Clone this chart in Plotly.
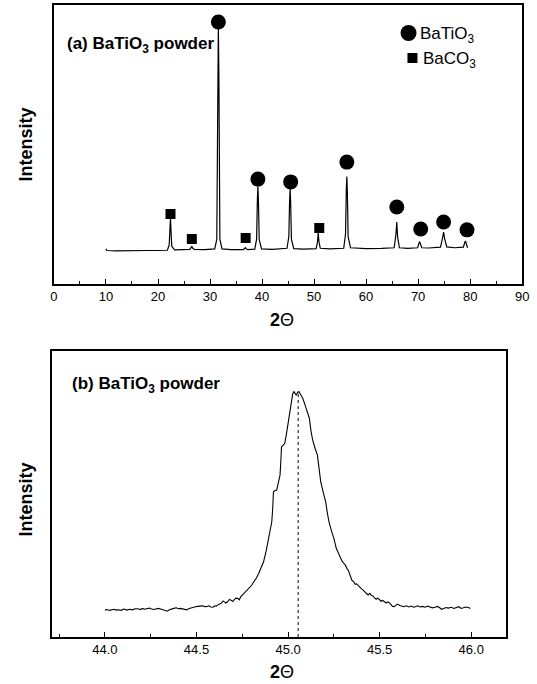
import plotly.graph_objects as go

# ---------------- data: panel (a) full XRD pattern ----------------
two_theta_a = [10.0, 10.15, 12.0, 14.0, 16.0, 18.0, 20.0, 21.8, 22.15, 22.3, 22.4, 22.5, 22.65, 23.2,
               25.0, 26.1, 26.35, 26.5, 26.65, 27.0, 29.0, 30.9, 31.3, 31.5, 31.6, 31.7, 31.9, 32.3,
               34.0, 36.4, 36.65, 36.8, 36.95, 37.3, 38.6, 38.95, 39.1, 39.2, 39.3, 39.45, 39.9,
               42.0, 44.8, 45.15, 45.3, 45.4, 45.5, 45.65, 46.1, 48.0, 50.4, 50.65, 50.8, 50.95, 51.2,
               53.0, 55.7, 56.05, 56.2, 56.3, 56.4, 56.55, 57.0, 60.0, 63.0, 65.4, 65.75, 65.9, 66.05,
               66.4, 68.0, 69.9, 70.15, 70.3, 70.45, 70.7, 72.0, 74.3, 74.7, 74.9, 75.1, 75.5, 77.0,
               78.7, 78.95, 79.1, 79.25, 79.5]
intensity_a = [12.6, 12.0, 11.9, 12.0, 11.9, 12.0, 12.0, 12.1, 14.0, 20.0, 23.7, 19.0, 13.5, 12.2,
               12.3, 12.4, 13.0, 13.5, 12.9, 12.4, 12.3, 12.6, 16.0, 75.0, 93.0, 75.0, 16.0, 12.6,
               12.3, 12.3, 12.6, 13.0, 12.6, 12.3, 12.5, 16.0, 30.0, 35.0, 30.0, 16.0, 12.6,
               12.4, 12.8, 17.0, 30.0, 34.0, 29.0, 16.0, 12.7, 12.5, 12.7, 15.0, 18.3, 15.0, 12.8,
               12.6, 12.8, 18.0, 34.0, 38.5, 33.0, 17.0, 13.0, 12.7, 12.8, 13.0, 18.0, 22.2, 17.0,
               13.0, 12.8, 13.0, 14.5, 15.2, 14.3, 13.0, 12.9, 13.2, 16.5, 18.6, 16.3, 13.3, 13.0,
               13.2, 14.8, 15.4, 14.5, 13.0]

# phase markers (peak identification symbols)
batio3_peaks = [31.6, 39.2, 45.5, 56.3, 65.9, 70.5, 74.9, 79.4]
batio3_marker_y = [93.9, 37.6, 36.6, 43.7, 27.6, 19.7, 22.2, 19.4]
baco3_peaks = [22.4, 26.5, 36.85, 51.0]
baco3_marker_y = [25.1, 16.1, 16.5, 20.1]

# ---------------- data: panel (b) (200) peak detail ----------------
two_theta_b = [44.000, 44.012, 44.025, 44.037, 44.050, 44.062, 44.075, 44.091, 44.100, 44.109,
               44.120, 44.136, 44.150, 44.165, 44.180, 44.195, 44.205, 44.216, 44.230, 44.243,
               44.255, 44.266, 44.278, 44.290, 44.305, 44.318, 44.330, 44.340, 44.352, 44.365,
               44.376, 44.390, 44.400, 44.412, 44.425, 44.437, 44.447, 44.460, 44.472, 44.483,
               44.495, 44.507, 44.519, 44.530, 44.542, 44.555, 44.567, 44.578, 44.590, 44.600,
               44.608, 44.620, 44.635, 44.645, 44.652, 44.660, 44.670, 44.680, 44.688, 44.697,
               44.706, 44.715, 44.724, 44.733, 44.742, 44.750, 44.759, 44.772, 44.786, 44.800,
               44.813, 44.827, 44.840, 44.853, 44.866, 44.880, 44.893, 44.902, 44.911, 44.916,
               44.920, 44.929, 44.938, 44.947, 44.956, 44.960, 44.964, 44.973, 44.982, 44.991,
               45.000, 45.009, 45.018, 45.025, 45.032, 45.038, 45.044, 45.052, 45.059, 45.068,
               45.080, 45.090, 45.098, 45.107, 45.116, 45.125, 45.134, 45.147, 45.160, 45.170,
               45.178, 45.192, 45.205, 45.214, 45.223, 45.237, 45.250, 45.263, 45.276, 45.285,
               45.294, 45.303, 45.312, 45.321, 45.330, 45.339, 45.348, 45.358, 45.366, 45.374,
               45.383, 45.392, 45.401, 45.410, 45.419, 45.428, 45.437, 45.446, 45.455, 45.464,
               45.472, 45.481, 45.490, 45.499, 45.508, 45.517, 45.526, 45.535, 45.543, 45.552,
               45.562, 45.570, 45.579, 45.588, 45.597, 45.610, 45.620, 45.632, 45.645, 45.660,
               45.672, 45.685, 45.695, 45.708, 45.720, 45.735, 45.749, 45.762, 45.775, 45.788,
               45.802, 45.815, 45.826, 45.838, 45.850, 45.862, 45.875, 45.891, 45.905, 45.918,
               45.932, 45.945, 45.958, 45.970, 45.985, 45.995]
intensity_b = [9.4, 9.6, 9.3, 9.5, 9.7, 9.4, 9.5, 9.3, 9.8, 9.7,
               9.4, 9.7, 9.5, 9.9, 9.9, 9.6, 10.0, 9.7, 9.9, 10.1,
               9.8, 9.6, 9.8, 10.0, 9.8, 9.5, 9.3, 9.0, 9.5, 9.9,
               10.0, 10.2, 9.9, 10.0, 9.8, 9.6, 9.5, 10.0, 10.3, 10.4,
               10.6, 10.7, 10.8, 10.9, 10.7, 10.6, 10.9, 10.5, 10.4, 10.9,
               10.8, 11.4, 11.8, 12.6, 12.3, 11.9, 12.3, 13.1, 12.9, 12.4,
               13.0, 13.6, 13.5, 13.0, 14.1, 14.6, 15.3, 16.0, 17.0, 18.0,
               19.3, 20.6, 22.3, 24.0, 26.3, 30.0, 34.5, 37.0, 40.3, 45.0,
               50.8, 51.2, 51.4, 54.0, 56.6, 61.0, 66.5, 67.0, 67.7, 71.0,
               74.7, 78.8, 83.5, 85.0, 85.8, 84.9, 84.6, 85.5, 85.8, 84.8,
               83.5, 81.6, 80.0, 78.0, 76.5, 72.0, 68.9, 66.0, 63.6, 58.5,
               54.3, 50.5, 47.3, 43.5, 40.3, 37.0, 34.5, 31.0, 29.0, 27.6,
               26.6, 25.8, 25.2, 24.0, 23.2, 21.5, 19.9, 19.3, 18.4, 18.6,
               17.9, 17.5, 16.8, 16.4, 15.6, 15.2, 14.7, 15.3, 14.5, 14.3,
               13.7, 13.2, 13.6, 12.9, 12.5, 12.8, 12.3, 11.9, 12.3, 12.0,
               11.3, 10.7, 10.6, 11.2, 11.5, 11.0, 10.8, 10.6, 10.9, 10.5,
               10.8, 10.4, 10.6, 10.9, 10.5, 10.7, 10.4, 10.8, 10.5, 10.2,
               10.4, 10.7, 10.3, 9.7, 10.0, 10.3, 10.1, 10.4, 10.0, 10.3,
               10.6, 10.0, 10.2, 10.5, 10.3, 10.0]
peak_center_b = [45.055, 45.055]
peak_guide_b = [0.0, 85.8]

ticks_a = [0, 10, 20, 30, 40, 50, 60, 70, 80, 90]
ticks_b = [44.0, 44.5, 45.0, 45.5, 46.0]
tick_text_b = ["44.0", "44.5", "45.0", "45.5", "46.0"]

FONT = "Liberation Sans, Arial, sans-serif"
W, H = 537, 684

fig = go.Figure()

# panel (a)
fig.add_trace(go.Scatter(x=two_theta_a, y=intensity_a, mode="lines",
                         line=dict(color="black", width=1.2), xaxis="x", yaxis="y",
                         showlegend=False, hoverinfo="skip"))
fig.add_trace(go.Scatter(x=batio3_peaks, y=batio3_marker_y, mode="markers",
                         marker=dict(symbol="circle", size=15, color="black"),
                         xaxis="x", yaxis="y", showlegend=False))
fig.add_trace(go.Scatter(x=baco3_peaks, y=baco3_marker_y, mode="markers",
                         marker=dict(symbol="square", size=10, color="black"),
                         xaxis="x", yaxis="y", showlegend=False))

# panel (b)
fig.add_trace(go.Scatter(x=two_theta_b, y=intensity_b, mode="lines",
                         line=dict(color="black", width=1.1), xaxis="x2", yaxis="y2",
                         showlegend=False, hoverinfo="skip"))
fig.add_trace(go.Scatter(x=peak_center_b, y=peak_guide_b, mode="lines",
                         line=dict(color="black", width=1, dash="dot"), xaxis="x2", yaxis="y2",
                         showlegend=False, hoverinfo="skip"))

axis_common = dict(showline=True, linecolor="black", linewidth=1.6, mirror=True,
                   showgrid=False, zeroline=False)

fig.update_layout(
    width=W, height=H,
    margin=dict(l=0, r=0, t=0, b=0),
    paper_bgcolor="white", plot_bgcolor="white",
    font=dict(family=FONT, color="black"),
    xaxis=dict(domain=[51 / W, 529 / W], range=[0, 90], anchor="y",
               tickmode="array", tickvals=ticks_a, ticks="inside", ticklen=5,
               tickwidth=1.2, tickcolor="black", tickfont=dict(size=13),
               minor=dict(dtick=5, tick0=0, ticks="inside", ticklen=3, tickcolor="black"),
               **axis_common),
    yaxis=dict(domain=[1 - 284 / H, 1 - 5 / H], range=[0, 100], anchor="x",
               showticklabels=False, ticks="", **axis_common),
    xaxis2=dict(domain=[49 / W, 512 / W], range=[43.711, 46.187], anchor="y2",
                tickmode="array", tickvals=ticks_b, ticktext=tick_text_b,
                ticks="inside", ticklen=5, tickwidth=1.2, tickcolor="black",
                tickfont=dict(size=13),
                minor=dict(dtick=0.25, tick0=44.0, ticks="inside", ticklen=3, tickcolor="black"),
                **axis_common),
    yaxis2=dict(domain=[1 - 637 / H, 1 - 351 / H], range=[0, 100], anchor="x2",
                showticklabels=False, ticks="", **axis_common),
)

ann = []
# axis titles
for ycen in (1 - 145 / H, 1 - 500 / H):
    ann.append(dict(text="<b>Intensity</b>", x=22 / W, y=ycen, xref="paper", yref="paper",
                    xanchor="center", yanchor="middle",
                    textangle=-90, showarrow=False, font=dict(size=18)))
for ycen in (1 - 320 / H, 1 - 672 / H):
    ann.append(dict(text="<b>2</b>Θ", x=284 / W, y=ycen, xref="paper", yref="paper",
                    xanchor="center", yanchor="middle",
                    showarrow=False, font=dict(size=18)))
# panel labels
ann.append(dict(text="<b>(a) BaTiO<sub>3</sub> powder</b>", x=62 / W, y=1 - 45 / H,
                xref="paper", yref="paper", xanchor="left", yanchor="middle",
                showarrow=False, font=dict(size=17)))
ann.append(dict(text="<b>(b) BaTiO<sub>3</sub> powder</b>", x=67 / W, y=1 - 385 / H,
                xref="paper", yref="paper", xanchor="left", yanchor="middle",
                showarrow=False, font=dict(size=17)))
# legend text
ann.append(dict(text="BaTiO<sub>3</sub>", x=423 / W, y=1 - 35 / H, xref="paper", yref="paper",
                xanchor="left", yanchor="middle", showarrow=False, font=dict(size=17)))
ann.append(dict(text="BaCO<sub>3</sub>", x=426 / W, y=1 - 60 / H, xref="paper", yref="paper",
                xanchor="left", yanchor="middle", showarrow=False, font=dict(size=17)))
fig.update_layout(annotations=ann)

# legend symbols
fig.update_layout(shapes=[
    dict(type="circle", xref="paper", yref="paper", xsizemode="pixel", ysizemode="pixel",
         xanchor=413 / W, yanchor=1 - 33 / H, x0=-8, x1=8, y0=-8, y1=8,
         fillcolor="black", line=dict(color="black", width=0)),
    dict(type="rect", xref="paper", yref="paper", xsizemode="pixel", ysizemode="pixel",
         xanchor=417 / W, yanchor=1 - 58 / H, x0=-5, x1=5, y0=-5, y1=5,
         fillcolor="black", line=dict(color="black", width=0)),
])

fig.write_html("out.html", config={"displayModeBar": False},
               post_script="document.body.style.margin='0';")
